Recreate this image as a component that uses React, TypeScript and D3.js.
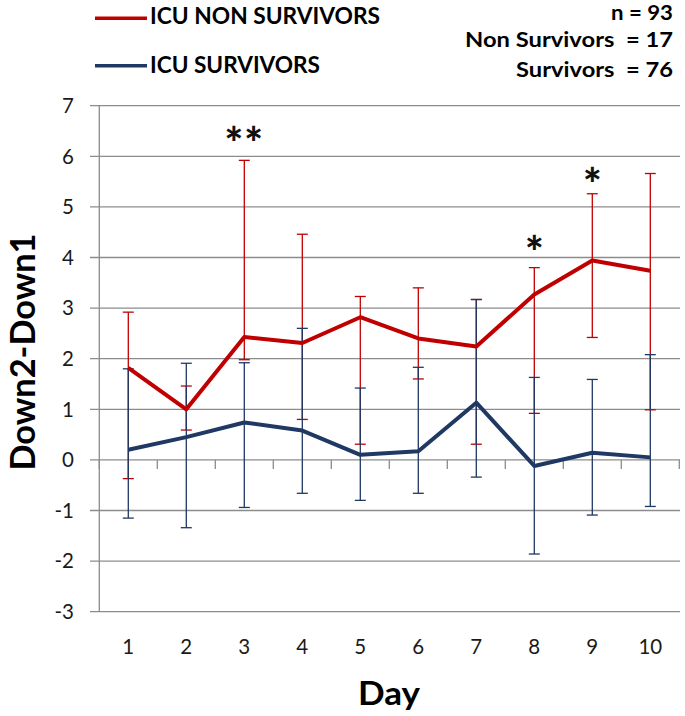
import React from "react";
import * as d3 from "d3";

const days = [1, 2, 3, 4, 5, 6, 7, 8, 9, 10];
const nonSurvivors = [1.82, 1.0, 2.43, 2.31, 2.82, 2.4, 2.24, 3.27, 3.94, 3.74];
const nonSurvivorsHi = [2.92, 1.46, 5.92, 4.46, 3.23, 3.4, 3.17, 3.8, 5.26, 5.66];
const nonSurvivorsLo = [-0.37, 0.59, 1.98, 0.8, 0.31, 1.6, 0.31, 0.92, 2.42, 0.99];
const survivors = [0.2, 0.45, 0.74, 0.58, 0.1, 0.17, 1.13, -0.12, 0.14, 0.05];
const survivorsHi = [1.8, 1.91, 1.92, 2.6, 1.42, 1.83, 3.17, 1.63, 1.59, 2.08];
const survivorsLo = [-1.15, -1.34, -0.94, -0.66, -0.8, -0.66, -0.34, -1.86, -1.09, -0.92];
const yTicks = [-3, -2, -1, 0, 1, 2, 3, 4, 5, 6, 7];
const stars = [
  { day: 3, label: "**", value: 6.4 },
  { day: 8, label: "*", value: 4.25 },
  { day: 9, label: "*", value: 5.6 },
];
const legendItems = ["ICU NON SURVIVORS", "ICU SURVIVORS"];
const countLines = ["n = 93", "Non Survivors  = 17", "Survivors  = 76"];

const RED = "#C00000";
const BLUE = "#1F3864";
const GRID = "#8C8C8C";
const FONT = "Lato, 'Open Sans', sans-serif";

export default function App() {
  const x = d3.scaleBand<number>().domain(days).range([99.3, 679.3]);
  const y = d3.scaleLinear().domain([-3, 7]).range([611.7, 105.7]);
  const cx = (d: number) => (x(d) as number) + x.bandwidth() / 2;
  const line = d3
    .line<number>()
    .x((_, i) => cx(days[i]))
    .y((v) => y(v));

  const errorBars = (hi: number[], lo: number[], color: string) =>
    days.map((d, i) => (
      <g key={d} stroke={color} strokeWidth={1.3}>
        <line x1={cx(d)} x2={cx(d)} y1={y(hi[i])} y2={y(lo[i])} />
        <line x1={cx(d) - 5.5} x2={cx(d) + 5.5} y1={y(hi[i])} y2={y(hi[i])} />
        <line x1={cx(d) - 5.5} x2={cx(d) + 5.5} y1={y(lo[i])} y2={y(lo[i])} />
      </g>
    ));

  const boundaries = days.map((d) => x(d) as number).concat([x.range()[1]]);

  return (
    <svg
      width={685}
      height={716}
      style={{ position: "absolute", left: 0, top: 0, background: "#fff" }}
      fontFamily={FONT}
    >
      <rect width={685} height={716} fill="#fff" />
      {yTicks.map((t) => (
        <line key={t} x1={90} x2={680} y1={y(t)} y2={y(t)} stroke={GRID} strokeWidth={1.3} />
      ))}
      <line x1={99.3} x2={99.3} y1={y(7)} y2={y(-3)} stroke={GRID} strokeWidth={1.3} />
      {boundaries.map((b, i) => (
        <line key={i} x1={b} x2={b} y1={y(0)} y2={y(0) + 9} stroke={GRID} strokeWidth={1.3} />
      ))}
      {yTicks.map((t) => (
        <text key={t} x={74} y={y(t)} dy="0.36em" textAnchor="end" fontSize={20.5} fill="#1a1a1a">
          {t}
        </text>
      ))}
      {days.map((d) => (
        <text key={d} x={cx(d)} y={654} textAnchor="middle" fontSize={20.5} fill="#1a1a1a">
          {d}
        </text>
      ))}
      {errorBars(nonSurvivorsHi, nonSurvivorsLo, RED)}
      {errorBars(survivorsHi, survivorsLo, BLUE)}
      <path d={line(survivors) || ""} fill="none" stroke={BLUE} strokeWidth={4} strokeLinejoin="round" />
      <path d={line(nonSurvivors) || ""} fill="none" stroke={RED} strokeWidth={4} strokeLinejoin="round" />
      {stars.map((s) => (
        <text
          key={s.day}
          x={cx(s.day)}
          y={y(s.value) + 23}
          textAnchor="middle"
          fontSize={44}
          fontWeight="900"
          fill="#111"
          letterSpacing={s.label.length > 1 ? 1 : 0}
        >
          {s.label}
        </text>
      ))}
      <text
        transform="translate(35,352) rotate(-90)"
        textAnchor="middle"
        fontSize={34}
        fontWeight="bold"
        fill="#000"
        textLength={237}
        lengthAdjust="spacingAndGlyphs"
      >
        Down2-Down1
      </text>
      <text x={389} y={705} textAnchor="middle" fontSize={32} fontWeight="bold" fill="#000" textLength={62} lengthAdjust="spacingAndGlyphs">
        Day
      </text>
      <line x1={95} x2={147} y1={18.3} y2={18.3} stroke={RED} strokeWidth={3.5} />
      <text x={150} y={23.5} fontSize={23} fontWeight="bold" fill="#000" textLength={230} lengthAdjust="spacingAndGlyphs">
        {legendItems[0]}
      </text>
      <line x1={95} x2={147} y1={65.7} y2={65.7} stroke={BLUE} strokeWidth={3.5} />
      <text x={150} y={72.5} fontSize={23} fontWeight="bold" fill="#000" textLength={170} lengthAdjust="spacingAndGlyphs">
        {legendItems[1]}
      </text>
      <text x={673} y={20} textAnchor="end" fontSize={20} fontWeight="bold" fill="#000" textLength={62} lengthAdjust="spacingAndGlyphs">
        {countLines[0]}
      </text>
      <text x={673} y={46.7} textAnchor="end" fontSize={20} fontWeight="bold" fill="#000" textLength={208} lengthAdjust="spacingAndGlyphs" style={{ whiteSpace: "pre" }}>
        {countLines[1]}
      </text>
      <text x={673} y={77} textAnchor="end" fontSize={20} fontWeight="bold" fill="#000" textLength={157} lengthAdjust="spacingAndGlyphs" style={{ whiteSpace: "pre" }}>
        {countLines[2]}
      </text>
    </svg>
  );
}
